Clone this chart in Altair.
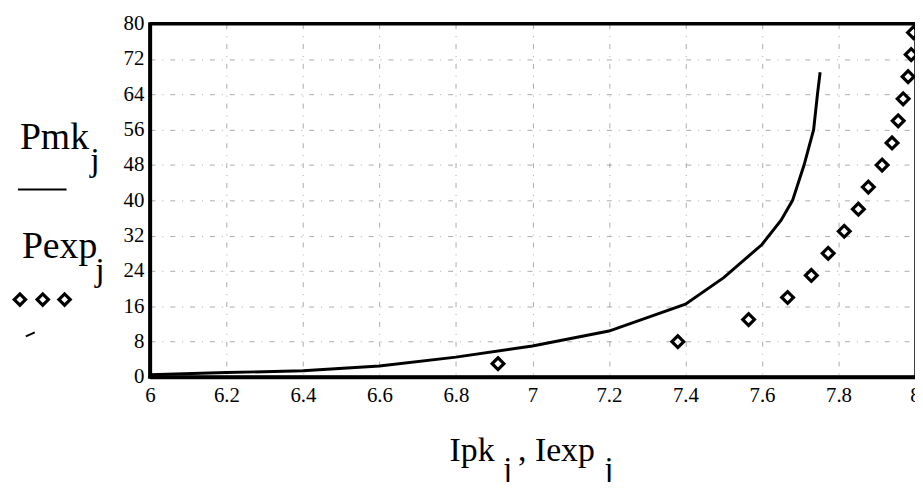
import altair as alt
import pandas as pd

# Calculated curve (Pmk vs Ipk)
ipk = [6.0, 6.2, 6.4, 6.6, 6.8, 7.0, 7.2, 7.4, 7.5, 7.6, 7.65, 7.68, 7.71, 7.735, 7.745, 7.752]
pmk = [0.5, 1.0, 1.4, 2.5, 4.5, 7.0, 10.4, 16.5, 22.5, 30.0, 35.5, 40.0, 48.0, 56.0, 64.0, 69.0]

# Experimental points (Pexp vs Iexp)
iexp = [6.91, 7.38, 7.565, 7.667, 7.729, 7.773, 7.815, 7.852, 7.878, 7.914, 7.94, 7.956, 7.969, 7.982, 7.99, 7.996]
pexp = [3, 8, 13, 18, 23, 28, 33, 38, 43, 48, 53, 58, 63, 68, 73, 78]

x_ticks = [6.0, 6.2, 6.4, 6.6, 6.8, 7.0, 7.2, 7.4, 7.6, 7.8, 8.0]
y_ticks = [0, 8, 16, 24, 32, 40, 48, 56, 64, 72, 80]

W, H = 771, 356
FONT = "Liberation Serif"

line_df = pd.DataFrame({"x": ipk, "y": pmk})
pts_df = pd.DataFrame({"x": iexp, "y": pexp})

xscale = alt.Scale(domain=[6, 8], nice=False, zero=False)
yscale = alt.Scale(domain=[0, 80], nice=False)

common = dict(title=None, labelFont=FONT, labelFontSize=21, labelColor="black", ticks=False,
              domainColor="black", domainWidth=3.5, grid=True, gridColor="#666",
              gridDash=[5, 7, 1, 7], gridWidth=1, gridOpacity=0.55,
              labelFlush=False, labelOverlap=False)
xaxis = alt.Axis(values=x_ticks, format=".1~f", labelPadding=8, **common)
yaxis = alt.Axis(values=y_ticks, labelPadding=6, **common)

line = alt.Chart(line_df).mark_line(color="black", strokeWidth=3).encode(
    x=alt.X("x:Q", scale=xscale, axis=xaxis),
    y=alt.Y("y:Q", scale=yscale, axis=yaxis),
)

pts = alt.Chart(pts_df).mark_point(shape="diamond", filled=False, color="black",
                                   size=140, strokeWidth=3.2, opacity=1).encode(
    x=alt.X("x:Q", scale=xscale, axis=xaxis),
    y=alt.Y("y:Q", scale=yscale, axis=yaxis),
)

one = alt.Data(values=[{"a": 1}])
OX, OY = 151, 22


def txt(s, px, py, size, align="left"):
    return alt.Chart(one).mark_text(text=s, font=FONT, fontSize=size, color="black",
                                    align=align, baseline="alphabetic").encode(
        x=alt.value(px - OX), y=alt.value(py - OY))


def hrule(x1, x2, yv, w=2):
    return alt.Chart(one).mark_rule(color="black", strokeWidth=w).encode(
        x=alt.value(x1 - OX), x2=alt.value(x2 - OX), y=alt.value(yv - OY))


def diamond(px, py):
    return alt.Chart(one).mark_point(shape="diamond", filled=False, color="black",
                                     size=130, strokeWidth=3.2, opacity=1).encode(
        x=alt.value(px - OX), y=alt.value(py - OY))


top_rule = alt.Chart(one).mark_rule(color="black", strokeWidth=3.5).encode(
    x=alt.value(0), x2=alt.value(W), y=alt.value(0))
right_rule = alt.Chart(one).mark_rule(color="black", strokeWidth=1.5).encode(
    x=alt.value(W), y=alt.value(0), y2=alt.value(H))
left_rule = alt.Chart(one).mark_rule(color="black", strokeWidth=3.5).encode(
    x=alt.value(0), y=alt.value(-1.5), y2=alt.value(H + 1.5))
bottom_rule = alt.Chart(one).mark_rule(color="black", strokeWidth=3.5).encode(
    x=alt.value(-1.5), x2=alt.value(W), y=alt.value(H))

dash = alt.Chart(one).mark_rule(color="black", strokeWidth=2).encode(
    x=alt.value(26 - OX), x2=alt.value(35 - OX), y=alt.value(337 - OY), y2=alt.value(333 - OY))

layers = [
    line, pts, top_rule, right_rule, left_rule, bottom_rule,
    txt("Pmk", 20, 148, 38), txt("j", 91, 170, 34),
    hrule(18, 67, 189),
    txt("Pexp", 22, 258, 38), txt("j", 96, 281, 34),
    diamond(20, 300), diamond(43, 300), diamond(65, 300), dash,
    txt("Ipk", 453, 463, 34), txt("j", 507, 481, 32),
    txt(", Iexp", 522, 463, 34), txt("j", 609, 481, 32),
]

chart = alt.layer(*layers).properties(
    width=W, height=H, autosize="none", background="white",
    padding={"left": OX - 8, "top": OY - 8, "right": 0, "bottom": 490 - OY - H - 8},
).configure_view(stroke=None).configure_axis(
    labelFont=FONT, labelFontSize=21, labelColor="black", labelOverlap=False
)

chart.save("out.html", embed_options={"renderer": "svg", "actions": False})
